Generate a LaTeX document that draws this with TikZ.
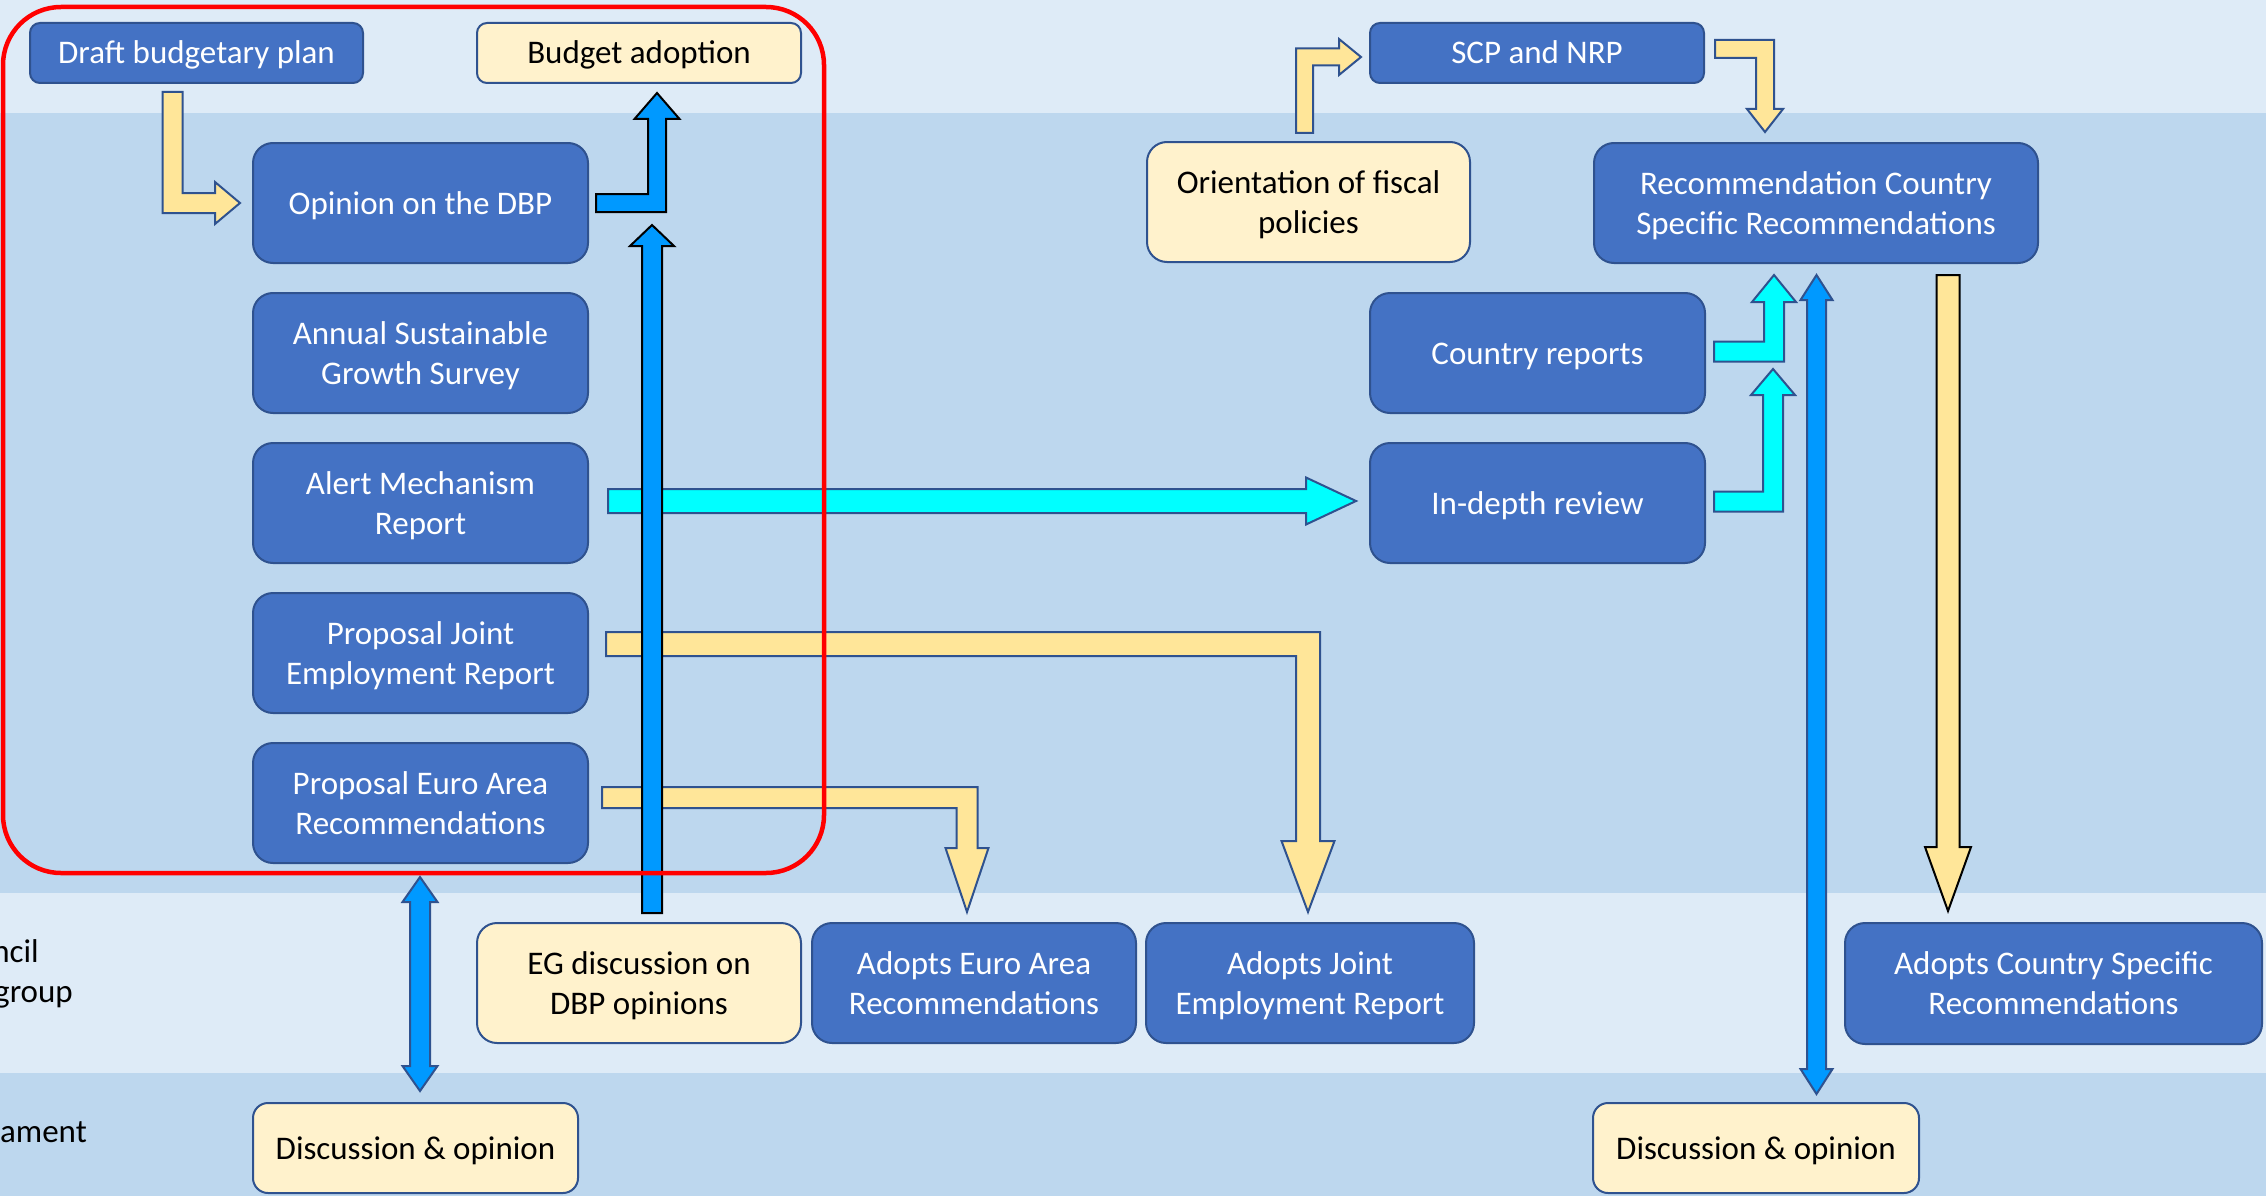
\documentclass[tikz,border=0pt]{standalone}
\usepackage{fontspec}
\setmainfont{Carlito}
\usetikzlibrary{calc}
\definecolor{bandlight}{HTML}{DEEBF7}
\definecolor{banddark}{HTML}{BDD7EE}
\definecolor{boxblue}{HTML}{4472C4}
\definecolor{boxline}{HTML}{2F528F}
\definecolor{cream}{HTML}{FFF2CC}
\definecolor{arryellow}{HTML}{FFE699}
\definecolor{arrblue}{HTML}{0099FF}
\definecolor{arrcyan}{HTML}{00FFFF}
\tikzset{
  txt/.style={font=\fontsize{33}{40}\selectfont},
  bluebox/.style={txt, draw=boxline, fill=boxblue, text=white, line width=2pt, rounded corners=#1, align=center, inner sep=0pt},
  bluebox/.default=20pt,
  creambox/.style={txt, draw=boxline, fill=cream, text=black, line width=2pt, rounded corners=#1, align=center, inner sep=0pt},
  creambox/.default=20pt,
  oneline/.style={text height=25pt, text depth=3pt},
  twoline/.style={text height=65pt, text depth=3pt},
  sidelabel/.style={txt, text=black, anchor=base east, inner sep=0pt},
  yarrow/.style={fill=arryellow, draw=boxline, line width=2pt},
  yarrowk/.style={fill=arryellow, draw=black, line width=2pt},
  carrow/.style={fill=arrcyan, draw=boxline, line width=2pt},
  barrowk/.style={fill=arrblue, draw=black, line width=2pt},
  barrow/.style={fill=arrblue, draw=boxline, line width=2pt},
  redframe/.style={draw=red, line width=4.5pt, rounded corners=58pt}
}
% block arrows: #1 style, #2 start, #3 tip, #4 half shaft, #5 half head, #6 head length
\newcommand\bkRU[6]{\draw[#1] let \p1=(#2), \p2=(#3) in
  (\x1,\y1+#4pt) -- (\x2-#4pt,\y1+#4pt) -- (\x2-#4pt,\y2-#6pt) -- (\x2-#5pt,\y2-#6pt) -- (\x2,\y2)
  -- (\x2+#5pt,\y2-#6pt) -- (\x2+#4pt,\y2-#6pt) -- (\x2+#4pt,\y1-#4pt) -- (\x1,\y1-#4pt) -- cycle;}
\newcommand\bkRD[6]{\draw[#1] let \p1=(#2), \p2=(#3) in
  (\x1,\y1+#4pt) -- (\x2+#4pt,\y1+#4pt) -- (\x2+#4pt,\y2+#6pt) -- (\x2+#5pt,\y2+#6pt) -- (\x2,\y2)
  -- (\x2-#5pt,\y2+#6pt) -- (\x2-#4pt,\y2+#6pt) -- (\x2-#4pt,\y1-#4pt) -- (\x1,\y1-#4pt) -- cycle;}
\newcommand\bkDR[6]{\draw[#1] let \p1=(#2), \p2=(#3) in
  (\x1-#4pt,\y1) -- (\x1-#4pt,\y2-#4pt) -- (\x2-#6pt,\y2-#4pt) -- (\x2-#6pt,\y2-#5pt) -- (\x2,\y2)
  -- (\x2-#6pt,\y2+#5pt) -- (\x2-#6pt,\y2+#4pt) -- (\x1+#4pt,\y2+#4pt) -- (\x1+#4pt,\y1) -- cycle;}
\newcommand\bkUR[6]{\draw[#1] let \p1=(#2), \p2=(#3) in
  (\x1-#4pt,\y1) -- (\x1-#4pt,\y2+#4pt) -- (\x2-#6pt,\y2+#4pt) -- (\x2-#6pt,\y2+#5pt) -- (\x2,\y2)
  -- (\x2-#6pt,\y2-#5pt) -- (\x2-#6pt,\y2-#4pt) -- (\x1+#4pt,\y2-#4pt) -- (\x1+#4pt,\y1) -- cycle;}
\newcommand\bkUp[6]{\draw[#1] let \p1=(#2), \p2=(#3) in
  (\x1-#4pt,\y1) -- (\x1-#4pt,\y2-#6pt) -- (\x1-#5pt,\y2-#6pt) -- (\x1,\y2)
  -- (\x1+#5pt,\y2-#6pt) -- (\x1+#4pt,\y2-#6pt) -- (\x1+#4pt,\y1) -- cycle;}
\newcommand\bkDown[6]{\draw[#1] let \p1=(#2), \p2=(#3) in
  (\x1-#4pt,\y1) -- (\x1-#4pt,\y2+#6pt) -- (\x1-#5pt,\y2+#6pt) -- (\x1,\y2)
  -- (\x1+#5pt,\y2+#6pt) -- (\x1+#4pt,\y2+#6pt) -- (\x1+#4pt,\y1) -- cycle;}
\newcommand\bkRight[6]{\draw[#1] let \p1=(#2), \p2=(#3) in
  (\x1,\y1+#4pt) -- (\x2-#6pt,\y1+#4pt) -- (\x2-#6pt,\y1+#5pt) -- (\x2,\y1)
  -- (\x2-#6pt,\y1-#5pt) -- (\x2-#6pt,\y1-#4pt) -- (\x1,\y1-#4pt) -- cycle;}
\newcommand\bkUD[6]{\draw[#1] let \p1=(#2), \p2=(#3) in
  (\x1,\y1) -- (\x1+#5pt,\y1-#6pt) -- (\x1+#4pt,\y1-#6pt) -- (\x1+#4pt,\y2+#6pt) -- (\x1+#5pt,\y2+#6pt)
  -- (\x1,\y2) -- (\x1-#5pt,\y2+#6pt) -- (\x1-#4pt,\y2+#6pt) -- (\x1-#4pt,\y1-#6pt) -- (\x1-#5pt,\y1-#6pt) -- cycle;}
\begin{document}
\begin{tikzpicture}[x=1pt,y=-1pt]
\useasboundingbox (0,0) rectangle (2266,1196);
% bands
\fill[bandlight] (0,0) rectangle (2266,113);
\fill[banddark] (0,113) rectangle (2266,893);
\fill[bandlight] (0,893) rectangle (2266,1073);
\fill[banddark] (0,1073) rectangle (2266,1196);
% side labels
\node[sidelabel] (lab1) at (39,962) {ncil};
\node[sidelabel] (lab2) at (73,1002) {group};
\node[sidelabel] (lab3) at (87,1142) {ament};
% boxes
\node[bluebox=10pt, oneline, minimum width=333, minimum height=60] (dbp) at (196.5,53) {Draft budgetary plan};
\node[creambox=10pt, oneline, minimum width=324, minimum height=60] (bud) at (639,53) {Budget adoption};
\node[bluebox, oneline, minimum width=335, minimum height=120] (opn) at (420.5,203) {Opinion on the DBP};
\node[bluebox, twoline, minimum width=335, minimum height=120] (asgs) at (420.5,353) {Annual Sustainable\\Growth Survey};
\node[bluebox, twoline, minimum width=335, minimum height=120] (amr) at (420.5,503) {Alert Mechanism\\Report};
\node[bluebox, twoline, minimum width=335, minimum height=120] (pjer) at (420.5,653) {Proposal Joint\\Employment Report};
\node[bluebox, twoline, minimum width=335, minimum height=120] (pear) at (420.5,803) {Proposal Euro Area\\Recommendations};
\node[creambox, twoline, minimum width=324, minimum height=120] (eg) at (639,983) {EG discussion on\\DBP opinions};
\node[bluebox, twoline, minimum width=324, minimum height=120] (aear) at (974,983) {Adopts Euro Area\\Recommendations};
\node[bluebox, twoline, minimum width=328, minimum height=120] (ajer) at (1310,983) {Adopts Joint\\Employment Report};
\node[bluebox, twoline, minimum width=417, minimum height=121] (acsr) at (2053.5,983.5) {Adopts Country Specific\\Recommendations};
\node[creambox=15pt, oneline, minimum width=325, minimum height=90] (disc1) at (415.5,1148) {Discussion \& opinion};
\node[creambox=15pt, oneline, minimum width=326, minimum height=90] (disc2) at (1756,1148) {Discussion \& opinion};
\node[creambox, twoline, minimum width=323, minimum height=120] (ofp) at (1308.5,202) {Orientation of fiscal\\policies};
\node[bluebox=10pt, oneline, minimum width=334, minimum height=60] (scp) at (1537,53) {SCP and NRP};
\node[bluebox, twoline, minimum width=444, minimum height=120] (rcsr) at (1816,203) {Recommendation Country\\Specific Recommendations};
\node[bluebox, oneline, minimum width=335, minimum height=120] (cr) at (1537.5,353) {Country reports};
\node[bluebox, oneline, minimum width=335, minimum height=120] (idr) at (1537.5,503) {In-depth review};
% arrows
\bkDR{yarrow}{$(dbp.south)+(-24,8)$}{$(opn.west)+(-12,0)$}{10}{21}{25}
\bkRU{barrowk}{$(opn.east)+(7,0)$}{$(bud.south)+(18,9)$}{9}{22.5}{26}
\bkRD{yarrow}{$(scp.east)+(10,-4)$}{$(rcsr.north)+(-51,-10)$}{9}{18}{23}
\bkUR{yarrow}{$(ofp.north)+(-4,-8)$}{$(scp.west)+(-8,4)$}{8.5}{18}{22}
\bkRU{carrow}{$(cr.east)+(8,-1.5)$}{$(rcsr.south)+(-42,11)$}{10}{22}{27}
\bkRU{carrow}{$(idr.east)+(8,-1.5)$}{$(cr.east)+(67,16)$}{10}{22}{26}
\bkUD{barrow}{$(rcsr.south)+(0.5,11)$}{$(disc2.north)+(60.5,-8)$}{9.5}{16}{25}
\bkDown{yarrowk}{$(rcsr.south)+(132,11)$}{$(acsr.north)+(-105.5,-11)$}{11.5}{23}{64}
\bkRD{yarrow}{$(pjer.east)+(17,-9)$}{$(ajer.north)+(-2,-10)$}{12}{26.5}{71}
\bkRD{yarrow}{$(pear.east)+(13,-5.5)$}{$(aear.north)+(-7,-10)$}{10.5}{21.5}{64}
\bkRight{carrow}{$(amr.east)+(19,-2)$}{$(idr.west)+(-13,-2)$}{12}{23.5}{50}
\bkUD{barrow}{$(pear.south)+(-0.5,13)$}{$(disc1.north)+(4.5,-11)$}{10}{17.5}{25}
\bkUp{barrowk}{$(eg.north)+(13,-9)$}{$(opn.south)+(231.5,-39)$}{10}{22}{21}
% red frame
\draw[redframe] (3,7) rectangle (824,873);
\end{tikzpicture}
\end{document}
